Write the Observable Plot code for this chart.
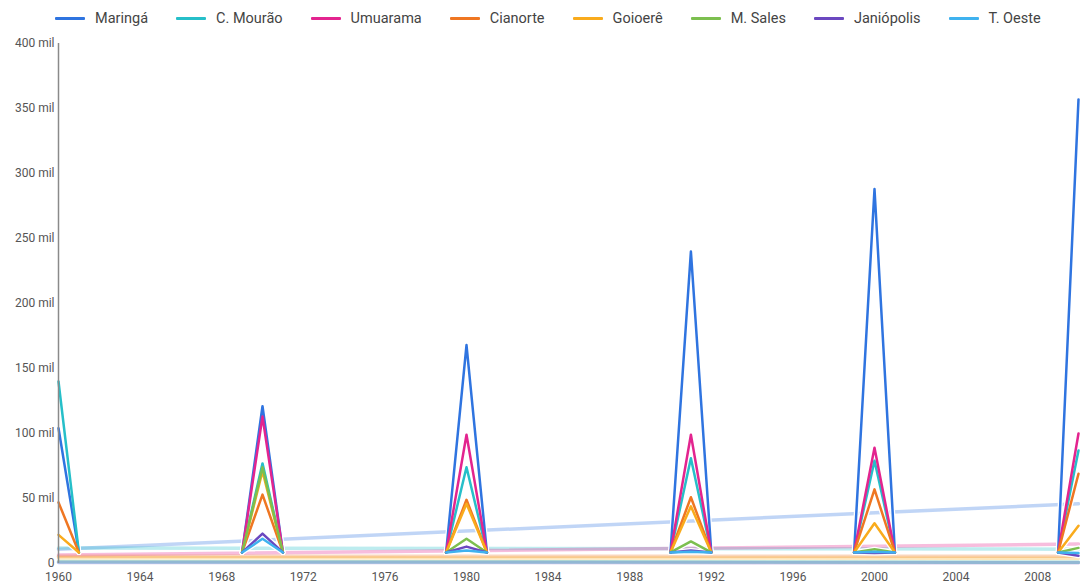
<!DOCTYPE html>
<html><head><meta charset="utf-8">
<script src="https://cdn.jsdelivr.net/npm/d3@7"></script>
<script src="https://cdn.jsdelivr.net/npm/@observablehq/plot@0.6"></script>
<style>
body{margin:0;background:#fff;font-family:Roboto,"Noto Sans",sans-serif;}
#legend{height:34px;display:flex;align-items:center;padding-left:55px;gap:28px;font-size:14.5px;color:#444;box-sizing:border-box;padding-top:2px;}
.item{display:flex;align-items:center;white-space:nowrap;}
.sw{width:30px;height:3px;margin-right:10px;border-radius:1px;}
#chart svg{display:block;}
</style></head><body>
<div id="legend"></div><div id="chart"></div>
<script>
const cities = ["Maringá","C. Mourão","Umuarama","Cianorte","Goioerê","M. Sales","Janiópolis","T. Oeste"];
const colors = ["#2f74e0","#26bfc9","#e3248f","#ef7622","#f9ab1c","#7cbf4f","#6b48c0","#3fb2ef"];
const censusYears = [1960, 1970, 1980, 1991, 2000, 2010];
const maringa    = [104000, 121000, 168000, 240000, 288000, 357000];
const cMourao    = [140000,  77000,  74000,  81000,  79000,  87000];
const umuarama   = [null,   113000,  99000,  99000,  89000, 100000];
const cianorte   = [ 47000,  53000,  49000,  51000,  57000,  69000];
const goioere    = [ 22000,  71000,  46000,  44000,  31000,  29000];
const mSales     = [null,    74000,  19000,  17000,  11000,  12000];
const janiopolis = [null,    23000,  13000,  10000,   8000,   6000];
const tOeste     = [null,    19000,  10000,   9000,   9000,   8000];
// value read at the years next to each census year
const offYearValue = [8500, 8500, 8500, 8500, 8500, 8500, 8500, 8500];
// faint trend lines: value at first and last year
const trendStart = [11000, 12000, 6500, 5500, 4500, 1500, 800, 1200];
const trendEnd   = [46000, 11000, 15000, 5500, 4000, 1000, 600, 1000];
const yearRange = [1960, 2010];
const xTicks = [1960,1964,1968,1972,1976,1980,1984,1988,1992,1996,2000,2004,2008];
const yTicks = [0,50000,100000,150000,200000,250000,300000,350000,400000];

const series = [maringa, cMourao, umuarama, cianorte, goioere, mSales, janiopolis, tOeste];

// legend
const lg = document.getElementById("legend");
cities.forEach((c,i)=>{
  const it = document.createElement("div"); it.className="item";
  const sw = document.createElement("div"); sw.className="sw"; sw.style.background=colors[i];
  const tx = document.createElement("span"); tx.textContent=c;
  it.append(sw, tx); lg.append(it);
});

// rows
const rows = [];
series.forEach((vals, ci) => {
  censusYears.forEach((yr, k) => {
    const v = vals[k];
    if (v == null) return;
    const seg = cities[ci] + "-" + yr;
    if (yr > yearRange[0]) rows.push({city: cities[ci], seg, year: yr - 1, value: offYearValue[ci]});
    rows.push({city: cities[ci], seg, year: yr, value: v});
    if (yr < yearRange[1]) rows.push({city: cities[ci], seg, year: yr + 1, value: offYearValue[ci]});
  });
});
const trendRows = [];
cities.forEach((c, i) => {
  trendRows.push({city: c, year: yearRange[0], value: trendStart[i]});
  trendRows.push({city: c, year: yearRange[1], value: trendEnd[i]});
});

const chart = Plot.plot({
  width: 1080, height: 550,
  marginLeft: 58, marginRight: 2, marginTop: 9, marginBottom: 21,
  x: {domain: yearRange},
  y: {domain: [yTicks[0], yTicks[yTicks.length-1]]},
  color: {domain: cities, range: colors},
  style: {fontFamily: "Roboto, 'Noto Sans', sans-serif", fontSize: "12px", color: "#555", background: "#fff", overflow: "visible"},
  marks: [
    Plot.line(trendRows, {x: "year", y: "value", z: "city", stroke: "city", strokeWidth: 3.5, strokeOpacity: 0.3}),
    Plot.line(rows, {x: "year", y: "value", z: "seg", stroke: "white", strokeWidth: 5}),
    Plot.line(rows, {x: "year", y: "value", z: "seg", stroke: "city", strokeWidth: 2.5}),
    Plot.ruleX([yearRange[0]], {y1: yTicks[0], y2: yTicks[yTicks.length-1], stroke: "#8a8a8a", strokeWidth: 1.5}),
    Plot.axisX({ticks: xTicks, tickFormat: d => String(d), tickSize: 0, tickPadding: 9, label: null, fontSize: 12}),
    Plot.axisY({ticks: yTicks, tickFormat: d => d === 0 ? "0" : (d/1000) + " mil", tickSize: 0, tickPadding: 4, label: null, fontSize: 12})
  ]
});
document.getElementById("chart").append(chart);
</script>
</body></html>
